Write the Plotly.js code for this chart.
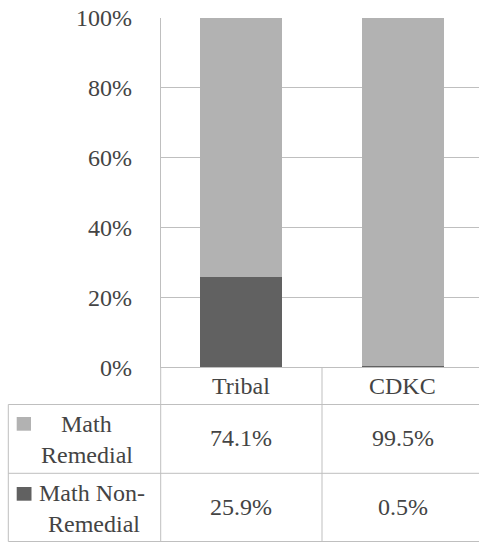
<!DOCTYPE html>
<html>
<head>
<meta charset="utf-8">
<script src="https://cdn.plot.ly/plotly-3.0.1.min.js"></script>
</head>
<body style="margin:0">
<div id="chart"></div>
<script>
// ---- data ----
var categories = ['Tribal', 'CDKC'];
var seriesNames = ['Math Remedial', 'Math Non-Remedial'];
var remedial = [74.1, 99.5];
var nonRemedial = [25.9, 0.5];
var yTicks = [0, 20, 40, 60, 80, 100];

// ---- helpers (pixel -> paper) ----
var W = 479, H = 544;
function px(x) { return x / W; }
function py(y) { return 1 - y / H; }

var LIGHT = '#b2b2b2', DARK = '#616161', LINE = '#bfbfbf';
var FONT = 'Liberation Serif';
var plotLeft = 160.7, plotTop = 17.7, plotBottom = 367.5, catW = 161.3;

var traces = [
  {type: 'bar', name: seriesNames[1], x: [0, 1], y: nonRemedial, marker: {color: DARK}, width: 0.51, hoverinfo: 'none'},
  {type: 'bar', name: seriesNames[0], x: [0, 1], y: remedial, marker: {color: LIGHT}, width: 0.51, hoverinfo: 'none'}
];

var shapes = [];
function hline(y, x0, x1) {
  shapes.push({type: 'line', xref: 'paper', yref: 'paper', x0: px(x0), x1: px(x1), y0: py(y), y1: py(y), line: {color: LINE, width: 1}});
}
function vline(x, y0, y1) {
  shapes.push({type: 'line', xref: 'paper', yref: 'paper', x0: px(x), x1: px(x), y0: py(y0), y1: py(y1), line: {color: LINE, width: 1}});
}
hline(plotBottom, plotLeft, W + 5);
hline(404.5, 8.3, W + 5);
hline(473.3, 8.3, W + 5);
hline(541.5, 8.3, W + 5);
vline(8.3, 404.5, 541.5);
vline(plotLeft, plotBottom, 541.5);
vline(plotLeft + catW, plotBottom, 541.5);

// legend keys
shapes.push({type: 'rect', xref: 'paper', yref: 'paper', x0: px(16.7), x1: px(31), y0: py(430.7), y1: py(417), fillcolor: LIGHT, line: {width: 0}});
shapes.push({type: 'rect', xref: 'paper', yref: 'paper', x0: px(16.7), x1: px(31.5), y0: py(500.7), y1: py(487), fillcolor: DARK, line: {width: 0}});

var annotations = [];
function txt(text, x, xref, y) {
  annotations.push({text: text, x: x, xref: xref, y: py(y), yref: 'paper', showarrow: false,
    xanchor: 'center', yanchor: 'middle', font: {family: FONT, size: 24}});
}
// header row
categories.forEach(function (c, i) { txt(c, i, 'x', 386); });
// row values
remedial.forEach(function (v, i) { txt(v.toFixed(1) + '%', i, 'x', 438); });
nonRemedial.forEach(function (v, i) { txt(v.toFixed(1) + '%', i, 'x', 507); });
// row headers
txt('Math', px(86), 'paper', 424);
txt('Remedial', px(86.5), 'paper', 455);
txt('Math Non-', px(91.5), 'paper', 493);
txt('Remedial', px(93.5), 'paper', 524);

var layout = {
  width: W, height: H,
  margin: {l: 0, r: 0, t: 0, b: 0},
  paper_bgcolor: '#fff', plot_bgcolor: '#fff',
  barmode: 'stack',
  showlegend: false,
  xaxis: {
    domain: [px(plotLeft), 1],
    range: [-0.5, -0.5 + (W - plotLeft) / catW],
    showticklabels: false, showgrid: false, zeroline: false, showline: false, ticks: '',
    fixedrange: true
  },
  yaxis: {
    domain: [py(plotBottom), py(plotTop)],
    range: [0, 100],
    tickvals: yTicks,
    ticktext: yTicks.map(function (t) { return t + '%'; }),
    showgrid: true, gridcolor: LINE, gridwidth: 1,
    zeroline: false,
    showline: true, linecolor: LINE, linewidth: 1,
    ticks: 'outside', ticklen: 23, tickcolor: 'rgba(0,0,0,0)',
    tickfont: {family: FONT, size: 24},
    fixedrange: true
  },
  shapes: shapes,
  annotations: annotations
};

Plotly.newPlot('chart', traces, layout, {displayModeBar: false, staticPlot: true});
</script>
</body>
</html>
